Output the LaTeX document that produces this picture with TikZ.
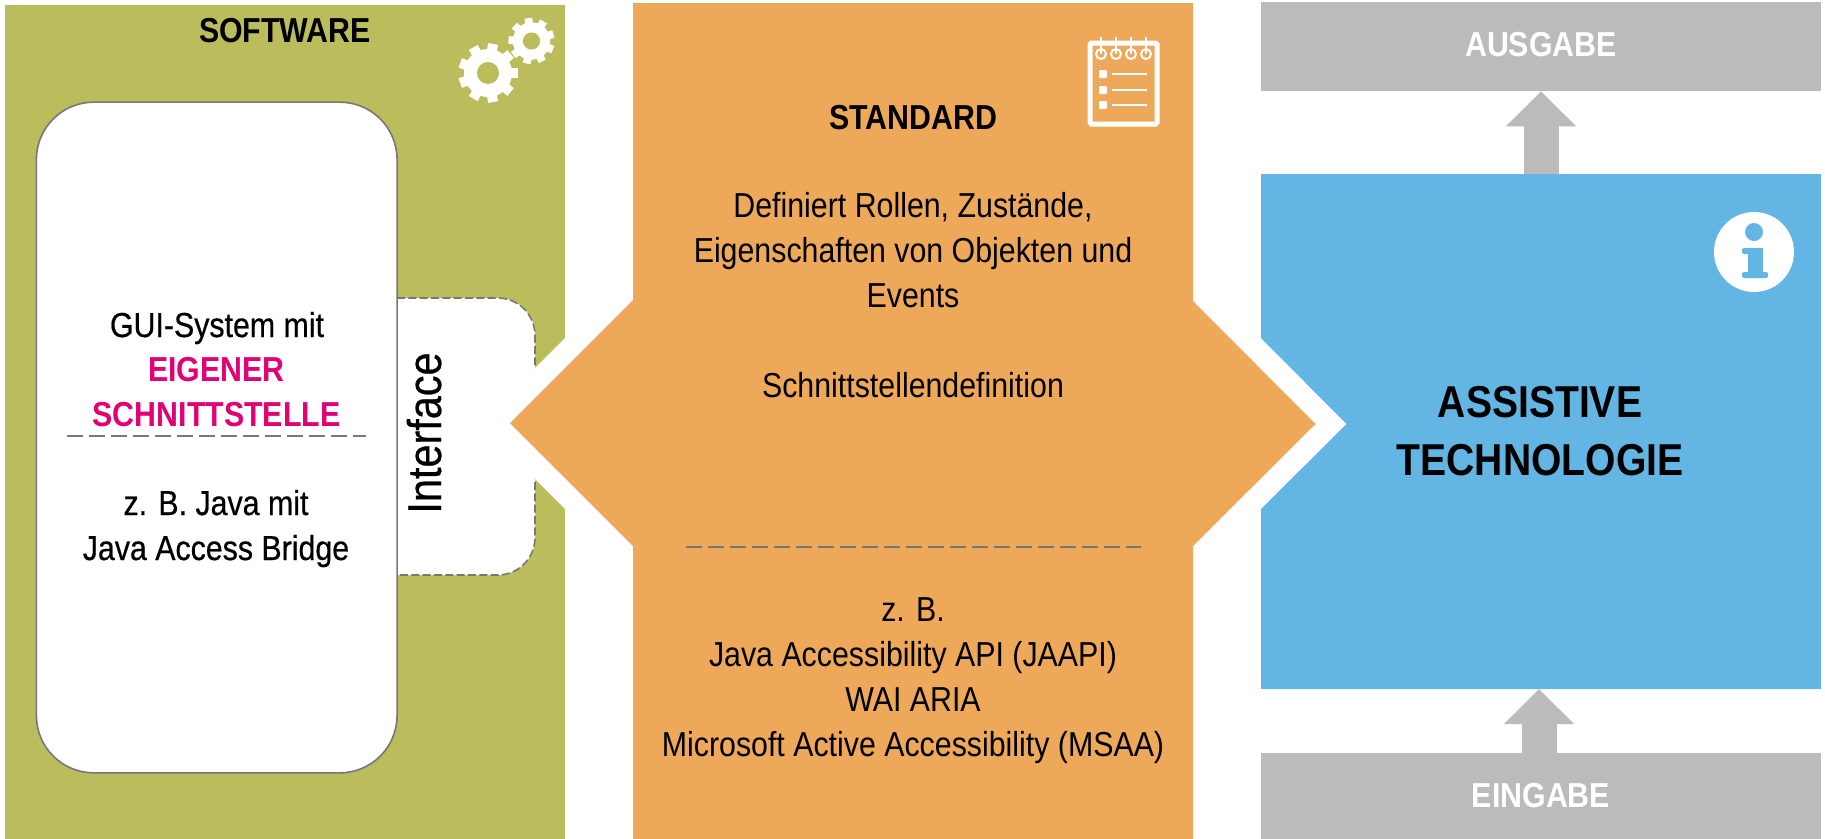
\documentclass[tikz,border=0pt]{standalone}
\usepackage{fontspec}
\usepackage{xcolor}
\usepackage{tikz}
\usetikzlibrary{arrows.meta, positioning}
\setmainfont[FakeStretch=0.875]{Liberation Sans}
\newfontfamily\guifont[FakeStretch=0.875, FakeBold=0.5]{Liberation Sans}
\definecolor{swgreen}{HTML}{BBBD5C}
\definecolor{stdorange}{HTML}{EDA85A}
\definecolor{atblue}{HTML}{63B5E3}
\definecolor{iogray}{HTML}{BBBBBB}
\definecolor{edgegray}{HTML}{777777}
\definecolor{tmagenta}{HTML}{E20074}
\tikzset{
    bodytext/.style={anchor=base, inner sep=0pt, align=center, font=\fontsize{26}{33.75}\selectfont},
    guitext/.style={anchor=base, inner sep=0pt, align=center, font=\fontsize{26}{33.75}\guifont},
    headtext/.style={anchor=base, inner sep=0pt, align=center, font=\fontsize{26}{33.75}\selectfont\bfseries},
    bigtext/.style={anchor=base, inner sep=0pt, align=center, font=\fontsize{33.5}{43}\selectfont\bfseries},
    iobox/.style={rectangle, draw=none, fill=iogray, text=white, inner sep=0pt, minimum width=420pt, font=\fontsize{26}{33.75}\selectfont\bfseries},
    guibox/.style={rectangle, draw=edgegray, line width=1.2pt, fill=white, rounded corners=43pt, minimum width=270.5pt, minimum height=503pt},
    dashline/.style={draw=edgegray, line width=1.5pt, dash pattern=on 12pt off 4.5pt},
    blockarrow/.style={draw=iogray, line width=26.25pt, -{Triangle[length=26.25pt, width=51pt]}},
    gearicon/.pic={
        \fill[white] (0,0) circle (24);
        \foreach \ang in {0,40,...,320}
            \fill[white, rotate=\ang] (20,-5) rectangle (29.5,5);
        \fill[swgreen] (0,0) circle (11);
    },
}
\begin{document}
\begin{tikzpicture}[x=0.75pt, y=-0.75pt]
            \useasboundingbox (0,0) rectangle (1825,839);
            \fill[swgreen] (5,5) rectangle (565,839);
            \draw[dashline, line width=1.2pt, dash pattern=on 6pt off 2.5pt, fill=white, rounded corners=28pt] (397,298) -- (535,298) -- (535,575) -- (397,575);
            \fill[white] (565,338) -- (480,423.5) -- (565,509) -- cycle;
            \node[guibox] (gui) at (216.75,437.5) {};
            \pic at (488,73) {gearicon};
            \pic[scale=0.78, rotate=18] at (531.5,41) {gearicon};
            \node[headtext] (sw) at (285,42) {SOFTWARE};
            \node[guitext] (guisys) at (217,337) {GUI-System mit};
            \node[headtext, text=tmagenta] (own) at (216.5,426) {EIGENER\\SCHNITTSTELLE};
            \coordinate (guidashl) at (67,436);
            \coordinate (guidashr) at (366,436);
            \draw[dashline] (guidashl) -- (guidashr);
            \node[guitext] (javaex) at (216,560) {z. B. Java mit\\Java Access Bridge};
            \node[anchor=base, inner sep=0pt, rotate=90, font=\fontsize{35.5}{40}\guifont] (iface) at (441,433) {Interface};

            \fill[stdorange] (633,3) -- (1193,3) -- (1193,301) -- (1315.5,424) -- (1193,546) -- (1193,839) -- (633,839) -- (633,546) -- (510,423) -- (633,300) -- cycle;
            \node[headtext] (std) at (913,129) {STANDARD};
            \node[bodytext] (stddef) at (913,307) {Definiert Rollen, Zustände,\\Eigenschaften von Objekten und\\Events};
            \node[bodytext] (stdif) at (913,397) {Schnittstellendefinition};
            \coordinate (stddashl) at (686,547);
            \coordinate (stddashr) at (1141,547);
            \draw[dashline] (stddashl) -- (stddashr);
            \node[bodytext] (stdex) at (913,756) {z. B.\\Java Accessibility API (JAAPI)\\WAI ARIA\\Microsoft Active Accessibility (MSAA)};
            \draw[white, line width=3.75pt, rounded corners=1pt] (1090,43) rectangle (1157,124);
            \foreach \rx in {1101,1116,1131,1146} {
                \draw[white, line width=1.5pt] (\rx,37) -- (\rx,54);
                \draw[white, line width=1.5pt] (\rx,54) circle (5);
            }
            \foreach \ry in {74,90,105} {
                \fill[white, rounded corners=0.8pt] (1099,\ry-4) rectangle (1107,\ry+4);
                \draw[white, line width=1.5pt] (1112,\ry) -- (1147,\ry);
            }

            \fill[atblue] (1261,174) -- (1821,174) -- (1821,689) -- (1261,689) -- (1261,509) -- (1346.5,424) -- (1261,338) -- cycle;
            \node[bigtext] (at) at (1540,417) {ASSISTIVE};
            \node[bigtext] (at2) at (1540,475) {TECHNOLOGIE};
            \fill[white] (1754,252) circle (40);
            \fill[atblue] (1754,232) circle (9);
            \fill[atblue, rounded corners=1.5pt] (1742,248) rectangle (1763,254);
            \fill[atblue] (1748,248) rectangle (1763,276);
            \fill[atblue, rounded corners=1.5pt] (1742,272) rectangle (1768,278);

            \node[iobox, minimum height=66.75pt, text depth=3pt] (out) at (1541,46.5) {AUSGABE};
            \node[iobox, minimum height=64.5pt] (in) at (1541,796) {EINGABE};
            \coordinate (attop) at (1541,174);
            \coordinate (atbottom) at (1539,689);
            \draw[blockarrow] (attop) -- (out.south);
            \draw[blockarrow] ([xshift=-1.5pt]in.north) -- (atbottom);
        \end{tikzpicture}
\end{document}
